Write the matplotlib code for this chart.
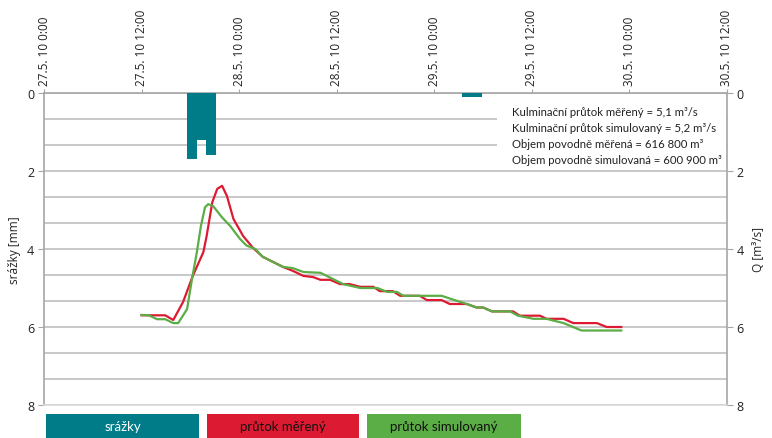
import matplotlib
matplotlib.use("Agg")
import matplotlib.pyplot as plt
from matplotlib.patches import Rectangle
import numpy as np

plt.rcParams['font.family'] = ['Open Sans', 'DejaVu Sans']

# ---- data (time in hours from 27.5.10 0:00) ----
tick_hours = [0, 12, 24, 36, 48, 60, 72, 84]
tick_labels = ["27.5. 10 0:00", "27.5. 10 12:00", "28.5. 10 0:00", "28.5. 10 12:00",
               "29.5. 10 0:00", "29.5. 10 12:00", "30.5. 10 0:00", "30.5. 10 12:00"]

rain_t = [18.2, 19.4, 20.6, 52.0, 53.2]
rain_mm = [1.69, 1.20, 1.59, 0.10, 0.10]
rain_width = 1.23

meas_t = [12.0, 13.0, 14.9, 15.9, 17.1, 18.3, 19.6, 20.0, 20.7, 21.3, 21.9, 22.5, 23.3,
          24.5, 25.7, 26.9, 29.4, 30.6, 31.9, 33.1, 34.0, 35.2, 36.4, 37.6, 38.9, 40.5,
          41.3, 42.9, 43.8, 46.2, 47.1, 48.9, 49.9, 52.0, 53.2, 54.0, 55.1, 57.7, 58.5,
          61.0, 61.8, 63.9, 65.1, 68.0, 69.2, 71.0]
meas_q = [5.70, 5.70, 5.70, 5.82, 5.36, 4.69, 4.08, 3.67, 2.80, 2.46, 2.38, 2.64, 3.23,
          3.67, 3.97, 4.20, 4.46, 4.56, 4.69, 4.72, 4.79, 4.79, 4.90, 4.90, 4.97, 4.97,
          5.08, 5.08, 5.20, 5.20, 5.31, 5.31, 5.41, 5.41, 5.50, 5.50, 5.60, 5.60, 5.71,
          5.71, 5.79, 5.79, 5.90, 5.90, 6.00, 6.00]

sim_t = [12.0, 12.9, 13.9, 14.9, 15.9, 16.5, 17.6, 18.2, 18.8, 19.3, 19.8, 20.2, 20.8,
         21.9, 22.9, 24.1, 24.9, 26.0, 26.9, 29.4, 30.6, 31.9, 34.0, 36.8, 38.9, 41.0,
         42.2, 43.4, 44.2, 48.9, 50.5, 52.0, 53.2, 54.0, 55.1, 57.3, 58.3, 60.2, 61.8,
         63.9, 66.1, 71.0]
sim_q = [5.69, 5.70, 5.80, 5.80, 5.90, 5.90, 5.54, 4.77, 4.08, 3.41, 2.93, 2.85, 2.90,
         3.19, 3.41, 3.74, 3.91, 4.00, 4.20, 4.46, 4.49, 4.59, 4.61, 4.90, 5.00, 5.00,
         5.10, 5.10, 5.20, 5.20, 5.31, 5.41, 5.50, 5.50, 5.60, 5.60, 5.71, 5.79, 5.79,
         5.90, 6.09, 6.09]

info_lines = ["Kulminační průtok měřený = 5,1 m³/s",
              "Kulminační průtok simulovaný = 5,2 m³/s",
              "Objem povodně měřená = 616 800 m³",
              "Objem povodně simulovaná = 600 900 m³"]
legend_labels = ["srážky", "průtok měřený", "průtok simulovaný"]

TEAL = "#007C89"
RED = "#DC1B32"
GREEN = "#5BAD45"
GRID = "#BFBFBF"
SPINE = "#A6A6A6"

W, H = 772, 439
fig = plt.figure(figsize=(W / 100, H / 100), dpi=100)
x0, x1, y0, y1 = 44, 727, 94, 406
ax = fig.add_axes([x0 / W, 1 - y1 / H, (x1 - x0) / W, (y1 - y0) / H])

ax.set_xlim(0, 84)
ax.set_ylim(8, 0)
for g in np.arange(0, 8.01, 8 / 12):
    ax.axhline(g, color=GRID, lw=1.2, zorder=0)

ax.bar(rain_t, rain_mm, width=rain_width, color=TEAL, zorder=3, align='center')

ax.xaxis.tick_top()
ax.set_xticks(tick_hours)
ax.set_xticklabels(tick_labels, rotation=90, fontsize=8.5, color="#222222")
ax.tick_params(axis='x', length=3, color=SPINE, pad=3)
ax.set_yticks([0, 2, 4, 6, 8])
ax.set_yticklabels(["0", "2", "4", "6", "8"], fontsize=9, color="#222222")
ax.tick_params(axis='y', length=4, color=SPINE, pad=3)
ax.set_ylabel("srážky [mm]", fontsize=8.5, color="#222222", labelpad=4)

for s in ['left', 'right', 'top']:
    ax.spines[s].set_color(SPINE)
    ax.spines[s].set_linewidth(1.2)
ax.spines['bottom'].set_color("#D9D9D9")
ax.spines['bottom'].set_linewidth(1.2)

ax2 = ax.twinx()
ax2.set_ylim(8, 0)
ax2.set_xlim(0, 84)
ax2.plot(meas_t, meas_q, color=RED, lw=1.6, zorder=4)
ax2.plot(sim_t, sim_q, color=GREEN, lw=1.6, zorder=5)
ax2.set_yticks([0, 2, 4, 6, 8])
ax2.set_yticklabels(["0", "2", "4", "6", "8"], fontsize=9, color="#222222")
ax2.tick_params(axis='y', length=4, color=SPINE, pad=3)
ax2.set_ylabel("Q [m³/s]", fontsize=8.5, color="#222222", labelpad=6)
for s in ax2.spines.values():
    s.set_visible(False)

# info box (white background covering grid)
fig.patches.append(Rectangle((497 / W, 1 - 166 / H), (726 - 497) / W, (166 - 101) / H,
                             transform=fig.transFigure, facecolor="white",
                             edgecolor="none", zorder=2))
for i, line in enumerate(info_lines):
    fig.text(512 / W, 1 - (113 + i * 16) / H, line, fontsize=8.2, color="#222222",
             va='center', ha='left', zorder=3, family=['Lato', 'DejaVu Sans'])

# legend boxes
boxes = [(46, 199, TEAL, "white"), (207, 359, RED, "#111111"), (367, 521, GREEN, "#111111")]
for (bx0, bx1, col, tcol), lab in zip(boxes, legend_labels):
    fig.patches.append(Rectangle((bx0 / W, 1 - 439 / H), (bx1 - bx0) / W, (439 - 415) / H,
                                 transform=fig.transFigure, facecolor=col, edgecolor="none"))
    fig.text((bx0 + bx1) / 2 / W, 1 - 427 / H, lab, fontsize=9.5, color=tcol,
             ha='center', va='center', family=['Lato', 'DejaVu Sans'])

fig.savefig("out.png", dpi=100)
